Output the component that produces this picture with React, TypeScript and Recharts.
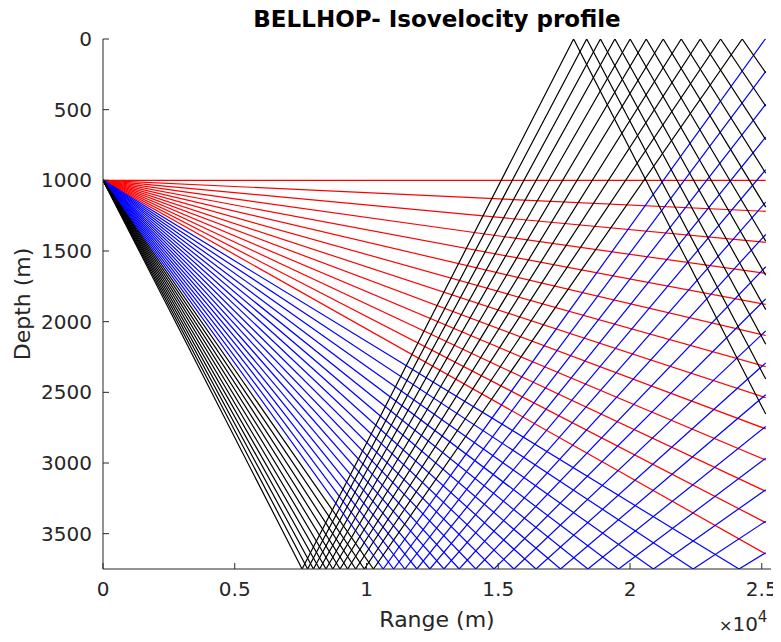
import { LineChart, Line, XAxis, YAxis } from "recharts";

// launch angles (degrees below horizontal), grouped by ray colour
const redAngles = [0, 0.5, 1, 1.5, 2, 2.5, 3, 3.5, 4, 4.5, 5, 5.5, 6];
const blueAngles = [6.5, 7, 7.5, 8, 8.5, 9, 9.5, 10, 10.5, 11, 11.5, 12, 12.5, 13, 13.5, 14, 14.5];
const blackAngles = [15, 15.5, 16, 16.5, 17, 17.5, 18, 18.5, 19, 19.5, 20];

const sourceDepth = 1000;
const bottomDepth = 3750;
const maxRange = 25150;

const xTicks = [0, 5000, 10000, 15000, 20000, 25000];
const yTicks = [0, 500, 1000, 1500, 2000, 2500, 3000, 3500];

const AXIS = "#262626";

// straight ray with specular reflections at surface and bottom
function tracePath(angle: number) {
  const s = Math.tan((angle * Math.PI) / 180);
  const pts = [{ x: 0, z: sourceDepth }];
  if (s === 0) {
    pts.push({ x: maxRange, z: sourceDepth });
    return pts;
  }
  let x = 0;
  let z = sourceDepth;
  let down = true;
  for (let i = 0; i < 10; i++) {
    const dx = down ? (bottomDepth - z) / s : z / s;
    if (x + dx >= maxRange) {
      const zEnd = z + (down ? 1 : -1) * s * (maxRange - x);
      pts.push({ x: maxRange, z: zEnd });
      break;
    }
    x += dx;
    z = down ? bottomDepth : 0;
    pts.push({ x, z });
    down = !down;
  }
  return pts;
}

const rays = [
  ...redAngles.map((a) => ({ a, color: "#ff0000" })),
  ...blueAngles.map((a) => ({ a, color: "#0000ff" })),
  ...blackAngles.map((a) => ({ a, color: "#000000" })),
].sort((p, q) => p.a - q.a);

export default function App() {
  return (
    <div style={{ position: "relative", width: 773, height: 634, fontFamily: "DejaVu Sans" }}>
      <div
        style={{
          position: "absolute",
          left: 0,
          width: 858,
          top: -2,
          textAlign: "center",
          fontWeight: "bold",
          fontSize: 23,
          color: "#000",
        }}
      >
        BELLHOP- Isovelocity profile
      </div>
      <LineChart width={773} height={626} margin={{ top: 31, right: 10, bottom: 0, left: 0 }}>
        <XAxis
          type="number"
          dataKey="x"
          domain={[0, 25350]}
          ticks={xTicks}
          allowDataOverflow
          height={65}
          tickSize={-6}
          tickMargin={19}
          tickFormatter={(v: number) => String(v / 10000)}
          tick={{ fill: AXIS, fontSize: 20, fontFamily: "DejaVu Sans" }}
          stroke={AXIS}
          label={{ value: "Range (m)", position: "insideBottom", offset: 7, fill: AXIS, fontSize: 22, fontFamily: "DejaVu Sans" }}
        />
        <YAxis
          type="number"
          dataKey="z"
          reversed
          domain={[0, bottomDepth]}
          ticks={yTicks}
          allowDataOverflow
          width={95}
          tickSize={-6}
          tickMargin={17}
          tick={{ fill: AXIS, fontSize: 20, fontFamily: "DejaVu Sans" }}
          stroke={AXIS}
          label={{ value: "Depth (m)", angle: -90, position: "insideLeft", offset: 14, fill: AXIS, fontSize: 22, fontFamily: "DejaVu Sans", style: { textAnchor: "middle" } }}
        />
        {rays.map((r) => (
          <Line
            key={r.a}
            data={tracePath(r.a)}
            dataKey="z"
            stroke={r.color}
            strokeWidth={1.2}
            dot={false}
            activeDot={false}
            isAnimationActive={false}
          />
        ))}
      </LineChart>
      <div style={{ position: "absolute", left: 711, top: 606, color: AXIS, whiteSpace: "nowrap", lineHeight: 1 }}>
        <span style={{ fontSize: 16 }}>×</span>
        <span style={{ fontSize: 20 }}>10</span>
        <span style={{ fontSize: 15, position: "relative", top: -9 }}>4</span>
      </div>
    </div>
  );
}
